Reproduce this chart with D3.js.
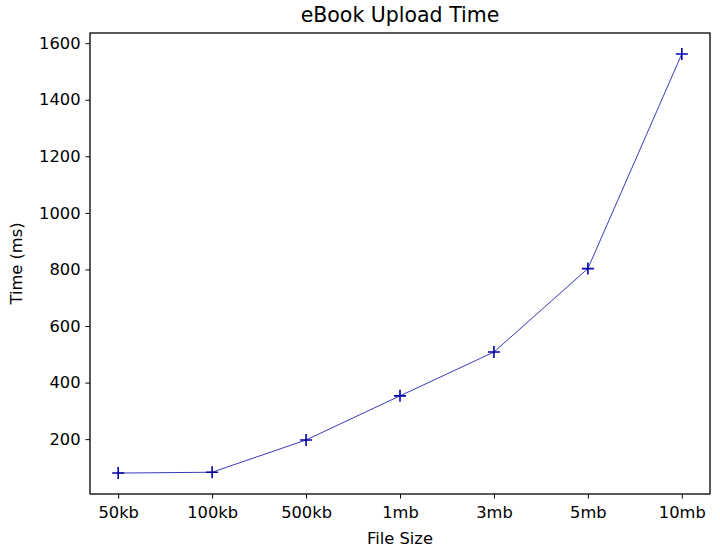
<!DOCTYPE html>
<html><head><meta charset="utf-8">
<script src="https://cdn.jsdelivr.net/npm/d3@7"></script>
<style>body{margin:0;background:#fff}svg{display:block}text{font-family:"DejaVu Sans",sans-serif;fill:#000}</style>
</head><body><svg id="c" width="720" height="550"></svg>
<script>
const categories = ["50kb","100kb","500kb","1mb","3mb","5mb","10mb"];
const times = [80, 83, 197, 353, 508, 803, 1562];
const yTicks = [200,400,600,800,1000,1200,1400,1600];

const svg = d3.select("#c");
const L=90, R=710, T=33, B=494;
const x = d3.scalePoint().domain(categories).range([L,R]).padding(0.3);
const yMin = 6, yMax = 1636;
const y = d3.scaleLinear().domain([yMin,yMax]).range([B,T]);

const xa = svg.append("g").attr("transform",`translate(0,${B})`)
  .call(d3.axisBottom(x).tickSizeOuter(0).tickSize(4.5).tickPadding(5));
const ya = svg.append("g").attr("transform",`translate(${L},0)`)
  .call(d3.axisLeft(y).tickValues(yTicks).tickFormat(d3.format("d")).tickSizeOuter(0).tickSize(4.5).tickPadding(5));
[xa,ya].forEach(a=>{a.select(".domain").remove();a.selectAll("text").style("font-size","16.3px").attr("fill","#000");a.selectAll("line").attr("stroke","#000");});
xa.selectAll("text").attr("dy","0.9em");

svg.append("rect").attr("x",L).attr("y",T).attr("width",R-L).attr("height",B-T)
  .attr("fill","none").attr("stroke","#000").attr("stroke-width",1.3);

const line = d3.line().x((d,i)=>x(categories[i])).y(d=>y(d));
svg.append("path").datum(times).attr("d",line).attr("fill","none")
  .attr("stroke","#3a3ab8").attr("stroke-width",1);
svg.append("g").selectAll("path").data(times).join("path")
  .attr("d",(d,i)=>{const cx=x(categories[i]),cy=y(d),s=6;return `M${cx-s},${cy}H${cx+s}M${cx},${cy-s}V${cy+s}`;})
  .attr("stroke","#0000a8").attr("stroke-width",1.6).attr("fill","none");

svg.append("text").attr("x",(L+R)/2).attr("y",22).attr("text-anchor","middle").style("font-size","20.5px").text("eBook Upload Time");
svg.append("text").attr("x",(L+R)/2).attr("y",544).attr("text-anchor","middle").style("font-size","16.3px").text("File Size");
svg.append("text").attr("transform",`translate(22,${(T+B)/2}) rotate(-90)`).attr("text-anchor","middle").style("font-size","16.3px").text("Time (ms)");
</script></body></html>
